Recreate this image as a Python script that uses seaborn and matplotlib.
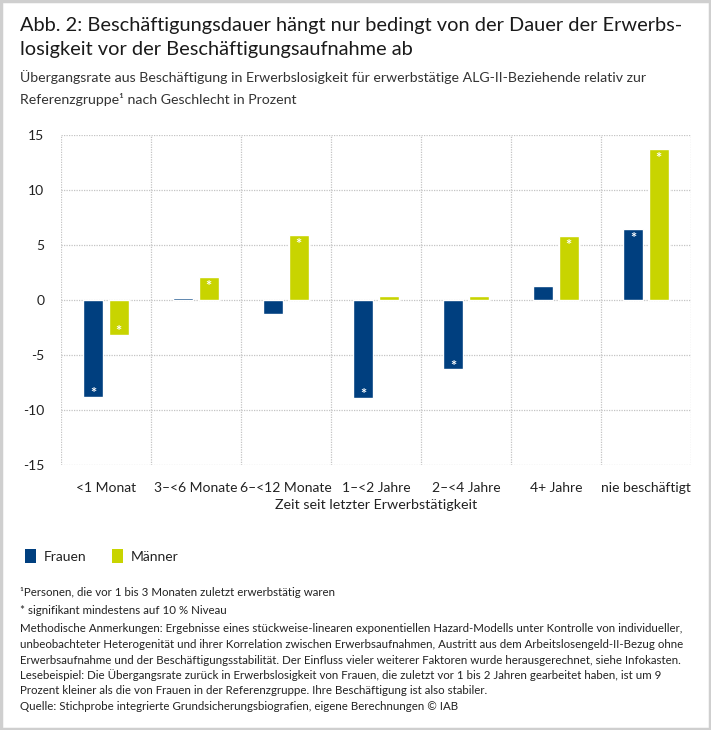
import matplotlib
matplotlib.use("Agg")
import matplotlib.pyplot as plt
import seaborn as sns
import pandas as pd
import numpy as np
from matplotlib.patches import Patch, Rectangle

categories = ["<1 Monat", "3–<6 Monate", "6–<12 Monate", "1–<2 Jahre",
              "2–<4 Jahre", "4+ Jahre", "nie beschäftigt"]
frauen = [-8.8, 0.2, -1.25, -8.9, -6.3, 1.3, 6.45]
maenner = [-3.2, 2.1, 5.9, 0.4, 0.4, 5.8, 13.7]
sig_frauen = [True, False, False, True, True, False, True]
sig_maenner = [True, True, True, False, False, True, True]
series = ["Frauen", "Männer"]
yticks = [-15, -10, -5, 0, 5, 10, 15]

blue = "#003f7f"
green = "#c8d400"

sns.set_theme(style="white")
plt.rcParams['font.family'] = ['Lato', 'DejaVu Sans']

df = pd.DataFrame({
    "Kategorie": categories * 2,
    "Wert": frauen + maenner,
    "Geschlecht": ["Frauen"] * len(categories) + ["Männer"] * len(categories),
    "sig": sig_frauen + sig_maenner,
})

fig = plt.figure(figsize=(7.11, 7.30), dpi=100)
ax = fig.add_axes([61/711, 1-465/730, 630/711, 330/730])

sns.barplot(data=df, x="Kategorie", y="Wert", hue="Geschlecht", order=categories,
            hue_order=series, palette=[blue, green], width=0.56, gap=0.2,
            saturation=1, legend=False, ax=ax, errorbar=None)

ax.set_ylim(-15, 15)
ax.set_xlim(-0.5, len(categories) - 0.5)
ax.set_yticks(yticks)
ax.set_yticklabels([str(v) for v in yticks])
ax.set_xticks(range(len(categories)))
ax.set_xticklabels(categories)
ax.set_xticks(np.arange(-0.5, len(categories), 1.0), minor=True)
for s in ax.spines.values():
    s.set_visible(False)
ax.tick_params(axis='both', which='both', length=0, labelsize=10, colors="#222222")
ax.tick_params(axis='y', pad=12)
ax.tick_params(axis='x', pad=12)
ax.grid(False)
ax.yaxis.grid(True, which='major', color="#c4c4c4", linestyle=(0, (1, 1)), linewidth=0.9)
ax.xaxis.grid(True, which='minor', color="#c4c4c4", linestyle=(0, (1, 1)), linewidth=0.9)
ax.set_axisbelow(True)
ax.set_ylabel("")
ax.set_xlabel("Zeit seit letzter Erwerbstätigkeit", fontsize=10.3, color="#222222", labelpad=4)

# significance stars
for bar_container, sigs in zip(ax.containers, [sig_frauen, sig_maenner]):
    for rect, s in zip(bar_container.patches, sigs):
        if not s:
            continue
        h = rect.get_height()
        xc = rect.get_x() + rect.get_width() / 2
        off = -7 if h > 0 else 2
        ax.annotate("*", (xc, h), xytext=(0, off), textcoords="offset points",
                    ha="center", va="center", color="white", fontsize=10.5, fontweight="bold")

# texts
fig.text(20/711, 1-25/730, "Abb. 2: Beschäftigungsdauer hängt nur bedingt von der Dauer der Erwerbs-",
         fontsize=14.4, color="#1a1a1a", va="center", ha="left")
fig.text(20/711, 1-50/730, "losigkeit vor der Beschäftigungsaufnahme ab",
         fontsize=14.4, color="#1a1a1a", va="center", ha="left")
fig.text(20/711, 1-77/730, "Übergangsrate aus Beschäftigung in Erwerbslosigkeit für erwerbstätige ALG-II-Beziehende relativ zur",
         fontsize=10.2, color="#333333", va="center", ha="left")
fig.text(20/711, 1-99/730, "Referenzgruppe¹ nach Geschlecht in Prozent",
         fontsize=10.2, color="#333333", va="center", ha="left")

handles = [Patch(facecolor=blue, edgecolor="none"), Patch(facecolor=green, edgecolor="none")]
fig.legend(handles, series, loc="center left", bbox_to_anchor=(12/711, 1-556/730), ncol=2,
           frameon=False, fontsize=10, handlelength=0.8, handleheight=1.1,
           handletextpad=0.6, columnspacing=1.8, labelcolor="#222222")

foot = [
    (593, "¹Personen, die vor 1 bis 3 Monaten zuletzt erwerbstätig waren"),
    (611, "* signifikant mindestens auf 10 % Niveau"),
    (629, "Methodische Anmerkungen: Ergebnisse eines stückweise-linearen exponentiellen Hazard-Modells unter Kontrolle von individueller,"),
    (645, "unbeobachteter Heterogenität und ihrer Korrelation zwischen Erwerbsaufnahmen, Austritt aus dem Arbeitslosengeld-II-Bezug ohne"),
    (660, "Erwerbsaufnahme und der Beschäftigungsstabilität. Der Einfluss vieler weiterer Faktoren wurde herausgerechnet, siehe Infokasten."),
    (675, "Lesebeispiel: Die Übergangsrate zurück in Erwerbslosigkeit von Frauen, die zuletzt vor 1 bis 2 Jahren gearbeitet haben, ist um 9"),
    (690, "Prozent kleiner als die von Frauen in der Referenzgruppe. Ihre Beschäftigung ist also stabiler."),
    (707, "Quelle: Stichprobe integrierte Grundsicherungsbiografien, eigene Berechnungen © IAB"),
]
for y, t in foot:
    fig.text(20/711, 1-y/730, t, fontsize=8.25, color="#222222", va="center", ha="left")

fig.patches.append(Rectangle((0.001, 0.001), 0.998, 0.998, transform=fig.transFigure,
                             fill=False, edgecolor="#cfcfcf", linewidth=2.5))

fig.savefig("out.png", dpi=100)
